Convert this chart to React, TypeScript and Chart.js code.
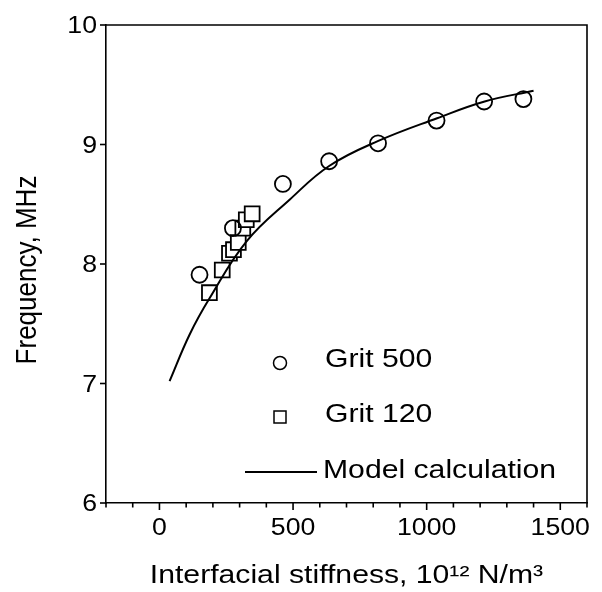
import React, { useEffect, useRef } from "react";
import { Chart, registerables } from "chart.js";

Chart.register(...registerables);

const grit500X = [150, 275, 462, 635, 818, 1037, 1215, 1362];
const grit500Y = [7.91, 8.30, 8.67, 8.86, 9.01, 9.20, 9.36, 9.38];

const grit120X = [187, 235, 262, 277, 295, 312, 325, 347];
const grit120Y = [7.76, 7.95, 8.09, 8.12, 8.18, 8.30, 8.37, 8.42];

const modelX = [38, 113, 188, 326, 488, 635, 819, 1039, 1217, 1400];
const modelY = [7.02, 7.41, 7.715, 8.19, 8.54, 8.82, 9.03, 9.22, 9.36, 9.45];

const xMajorTicks = [0, 500, 1000, 1500];
const yTicks = [6, 7, 8, 9, 10];

const legendLabels = ["Grit 500", "Grit 120", "Model calculation"];
const xTitle = "Interfacial stiffness, 10\u00B9\u00B2 N/m\u00B3";
const yTitle = "Frequency, MHz";

const FONT = "'Liberation Sans', Arial, sans-serif";
const STRETCH = 1.16;

function stretchedText(ctx: CanvasRenderingContext2D, text: string, x: number, y: number, align: CanvasTextAlign) {
  ctx.save();
  ctx.translate(x, y);
  ctx.scale(STRETCH, 1);
  ctx.textAlign = align;
  ctx.fillText(text, 0, 0);
  ctx.restore();
}

const decorPlugin = {
  id: "decor",
  afterDraw(chart: any) {
    const { ctx, chartArea: a, scales } = chart;
    const xs = scales.x;
    const ys = scales.y;
    ctx.save();
    ctx.strokeStyle = "#000";
    ctx.fillStyle = "#000";
    ctx.lineWidth = 1.6;
    // frame top & right
    ctx.beginPath();
    ctx.moveTo(a.left, a.top);
    ctx.lineTo(a.right, a.top);
    ctx.lineTo(a.right, a.bottom);
    ctx.stroke();
    // x tick marks
    xs.ticks.forEach((t: any) => {
      const px = xs.getPixelForValue(t.value);
      const major = xMajorTicks.includes(t.value);
      ctx.beginPath();
      ctx.moveTo(px, a.bottom);
      ctx.lineTo(px, a.bottom + (major ? 7 : 4.5));
      ctx.stroke();
    });
    // y tick marks
    ys.ticks.forEach((t: any) => {
      const py = ys.getPixelForValue(t.value);
      ctx.beginPath();
      ctx.moveTo(a.left, py);
      ctx.lineTo(a.left - 6, py);
      ctx.stroke();
    });
    // tick labels
    ctx.font = `23px ${FONT}`;
    ctx.textBaseline = "alphabetic";
    xMajorTicks.forEach((v) => {
      stretchedText(ctx, String(v), xs.getPixelForValue(v), a.bottom + 32, "center");
    });
    yTicks.forEach((v) => {
      stretchedText(ctx, String(v), a.left - 9, ys.getPixelForValue(v) + 8, "right");
    });
    // axis titles
    ctx.font = `26px ${FONT}`;
    stretchedText(ctx, xTitle, (a.left + a.right) / 2, 583, "center");
    ctx.save();
    ctx.translate(36, (a.top + a.bottom) / 2 + 6);
    ctx.rotate(-Math.PI / 2);
    ctx.scale(1, STRETCH);
    ctx.textAlign = "center";
    ctx.fillText(yTitle, 0, 0);
    ctx.restore();
    // legend
    const rows = [363, 417, 472];
    ctx.lineWidth = 1.5;
    ctx.beginPath();
    ctx.arc(280, rows[0], 6.5, 0, Math.PI * 2);
    ctx.stroke();
    ctx.strokeRect(274, rows[1] - 6, 12, 12);
    ctx.lineWidth = 1.8;
    ctx.beginPath();
    ctx.moveTo(245, rows[2]);
    ctx.lineTo(317, rows[2]);
    ctx.stroke();
    ctx.font = `26px ${FONT}`;
    stretchedText(ctx, legendLabels[0], 325, 367, "left");
    stretchedText(ctx, legendLabels[1], 325, 422, "left");
    stretchedText(ctx, legendLabels[2], 323, 478, "left");
    ctx.restore();
  },
};

export default function App() {
  const ref = useRef<HTMLCanvasElement | null>(null);
  useEffect(() => {
    if (!ref.current) return;
    const chart = new Chart(ref.current, {
      type: "scatter",
      data: {
        datasets: [
          {
            label: "Model calculation",
            type: "line",
            data: modelX.map((x, i) => ({ x, y: modelY[i] })),
            borderColor: "#000",
            borderWidth: 2,
            pointRadius: 0,
            fill: false,
            tension: 0.4,
          },
          {
            label: "Grit 500",
            data: grit500X.map((x, i) => ({ x, y: grit500Y[i] })),
            pointStyle: "circle",
            pointRadius: 8,
            borderColor: "#000",
            backgroundColor: "rgba(255,255,255,0)",
            borderWidth: 1.8,
          },
          {
            label: "Grit 120",
            data: grit120X.map((x, i) => ({ x, y: grit120Y[i] })),
            pointStyle: "rect",
            pointRadius: 10.5,
            borderColor: "#000",
            backgroundColor: "#fff",
            borderWidth: 1.8,
          },
        ],
      },
      options: {
        responsive: false,
        animation: false,
        layout: { padding: { top: 25, right: 15, left: 0, bottom: 0 } },
        plugins: { legend: { display: false }, tooltip: { enabled: false } },
        scales: {
          x: {
            type: "linear",
            min: -200,
            max: 1600,
            border: { display: true, color: "#000", width: 1.6 },
            grid: { display: false },
            ticks: { display: false, stepSize: 100, autoSkip: false },
            afterFit: (s: any) => {
              s.height = 89;
            },
          },
          y: {
            type: "linear",
            min: 6,
            max: 10,
            border: { display: true, color: "#000", width: 1.6 },
            grid: { display: false },
            ticks: { display: false, stepSize: 1 },
            afterFit: (s: any) => {
              s.width = 106;
            },
          },
        },
      },
      plugins: [decorPlugin],
    });
    return () => chart.destroy();
  }, []);
  return (
    <div style={{ position: "absolute", left: 0, top: 0, width: 602, height: 592, background: "#fff" }}>
      <canvas ref={ref} width={602} height={592} />
    </div>
  );
}
